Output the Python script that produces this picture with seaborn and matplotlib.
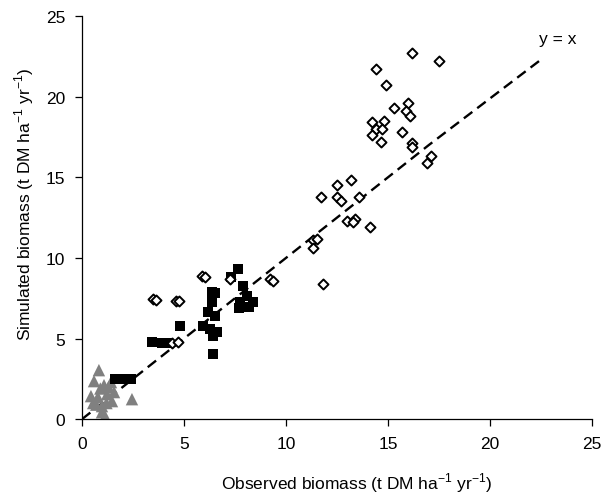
import matplotlib
matplotlib.use("Agg")
import matplotlib.pyplot as plt
import seaborn as sns
import pandas as pd

# Grey triangles
tri_x = [0.83, 0.59, 1.08, 1.42, 1.57, 0.44, 0.78, 1.23, 1.47, 2.45, 0.98, 0.98, 1.13, 0.9, 1.2, 0.7, 1.3, 0.55]
tri_y = [3.04, 2.36, 2.11, 2.30, 1.68, 1.43, 1.37, 1.55, 1.12, 1.24, 0.81, 0.43, 0.19, 1.9, 1.0, 0.9, 2.0, 1.0]

# Black squares
sq_x = [1.6, 1.9, 2.2, 2.4, 3.43, 3.9, 4.2, 4.8,
        6.37, 6.37, 6.18, 6.52, 5.93, 6.27, 6.6, 6.4, 6.42, 6.5,
        7.65, 7.3, 7.9, 8.08, 7.75, 8.4, 7.9, 8.2, 7.7]
sq_y = [2.5, 2.5, 2.5, 2.5, 4.78, 4.7, 4.7, 5.78,
        7.9, 7.27, 6.65, 6.4, 5.78, 5.59, 5.4, 5.15, 4.04, 7.8,
        9.3, 8.8, 8.26, 7.64, 7.27, 7.27, 6.96, 6.96, 6.9]

# Open diamonds
dia_x = [3.5, 3.65, 4.6, 4.75, 4.4, 4.7, 5.9, 6.05, 7.25, 9.2, 9.35,
         17.1, 16.9, 13.2, 12.5, 11.7, 12.5, 12.7, 13.6, 13.0, 13.4, 13.3, 14.1,
         11.3, 11.5, 11.3, 11.8,
         16.2, 17.5, 14.4, 14.9, 15.3, 16.0, 15.9, 16.1, 14.2, 14.8, 14.4, 14.7,
         14.2, 14.65, 15.7, 16.2, 16.2]
dia_y = [7.45, 7.4, 7.35, 7.3, 4.75, 4.78, 8.85, 8.8, 8.7, 8.7, 8.6,
         16.3, 15.9, 14.85, 14.5, 13.8, 13.8, 13.5, 13.8, 12.3, 12.4, 12.2, 11.9,
         11.1, 11.2, 10.6, 8.4,
         22.7, 22.2, 21.7, 20.7, 19.3, 19.6, 19.1, 18.8, 18.4, 18.5, 18.0, 18.0,
         17.6, 17.2, 17.8, 17.1, 16.9]

# 1:1 reference line
line_x = [0, 17.0, 22.5]
line_y = [0, 17.0, 22.3]

plt.rcParams['font.family'] = ['Liberation Sans', 'DejaVu Sans']
plt.rcParams['mathtext.fontset'] = 'custom'
plt.rcParams['mathtext.rm'] = 'Liberation Sans'
fig = plt.figure(figsize=(6.05, 5.02), dpi=100)
ax = fig.add_axes([0.1355, 0.163, 0.843, 0.803])

tri = pd.DataFrame({"x": tri_x, "y": tri_y})
sq = pd.DataFrame({"x": sq_x, "y": sq_y})
dia = pd.DataFrame({"x": dia_x, "y": dia_y})

sns.lineplot(x=line_x, y=line_y, ax=ax, color="black", linewidth=1.7,
             dashes=False, sort=False, estimator=None, zorder=1)
ax.lines[-1].set_dashes((4.5, 2.6))
sns.scatterplot(data=tri, x="x", y="y", ax=ax, marker="^", s=80,
                color="#808080", edgecolor="none", linewidth=0, zorder=2)
sns.scatterplot(data=sq, x="x", y="y", ax=ax, marker="s", s=52,
                color="black", edgecolor="none", linewidth=0, zorder=3)
sns.scatterplot(data=dia, x="x", y="y", ax=ax, marker="D", s=26,
                facecolor="white", edgecolor="black", linewidth=1.4, zorder=4)

ax.text(23.3, 23.6, "y = x", fontsize=12.5, ha="center", va="center")

ax.set_xlim(0, 25)
ax.set_ylim(0, 25)
ax.set_xticks([0, 5, 10, 15, 20, 25])
ax.set_yticks([0, 5, 10, 15, 20, 25])
for s in ["top", "right"]:
    ax.spines[s].set_visible(False)
for s in ["left", "bottom"]:
    ax.spines[s].set_linewidth(0.9)
ax.tick_params(direction="out", length=5, width=0.9, labelsize=12.5, pad=7)
ax.set_xlabel("Observed biomass (t DM ha$^{\\mathrm{-1}}$ yr$^{\\mathrm{-1}}$)", fontsize=12.5)
ax.set_ylabel("Simulated biomass (t DM ha$^{\\mathrm{-1}}$ yr$^{\\mathrm{-1}}$)", fontsize=12.5)
ax.xaxis.set_label_coords(0.539, -0.128)
ax.yaxis.set_label_coords(-0.09, 0.535)

fig.savefig("out.png", dpi=100)
